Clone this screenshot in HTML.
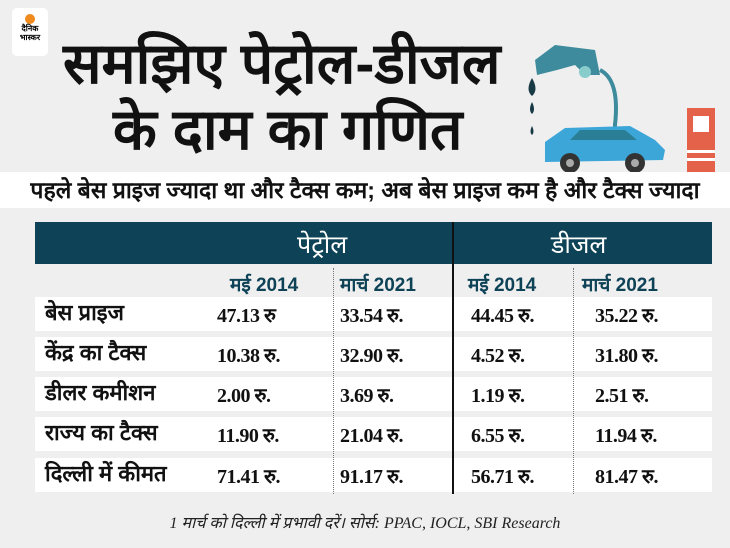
<!DOCTYPE html>
<html><head><meta charset="utf-8"><style>
body{margin:0;width:730px;height:548px;background:#efefef;overflow:hidden;position:relative;font-family:"Liberation Serif","Noto Serif CJK SC","Noto Sans CJK SC",serif}
.a{position:absolute}
.dev{font-family:"Liberation Sans","Noto Sans CJK SC","WenQuanYi Zen Hei",sans-serif}
.t{font-weight:900;font-size:57px;color:#111;white-space:nowrap;letter-spacing:0px}
.row{position:absolute;left:35px;width:677px;height:34px;background:#fff}
.lab{position:absolute;left:10px;top:0px;font-size:22px;font-weight:bold;color:#111;white-space:nowrap}
.v{position:absolute;top:4px;font-size:20px;font-weight:bold;color:#111;white-space:nowrap;letter-spacing:-0.5px}
.sh{position:absolute;top:271px;font-size:19px;color:#0e4256;font-weight:bold;white-space:nowrap}
</style></head><body>
<div class="a" style="left:12px;top:8px;width:36px;height:48px;background:#fff;border-radius:5px"></div>
<div class="a" style="left:25px;top:14px;width:10px;height:10px;border-radius:50%;background:#f08a1c"></div>
<div class="a dev" style="left:13px;top:24px;width:34px;font-size:8px;font-weight:bold;text-align:center;line-height:9px">दैनिक<br>भास्कर</div>
<div class="a dev t" style="left:63px;top:22px">समझिए पेट्रोल-डीजल</div>
<div class="a dev t" style="left:113px;top:88px">के दाम का गणित</div>
<svg class="a" style="left:515px;top:30px" width="215" height="175">
<path d="M20 30 L40 15 L80 20 L85 45 L70 45 L60 35 L42 40 L22 45Z" fill="#3d8b9c"/>
<circle cx="70" cy="42" r="6" fill="#8cc"/>
<path d="M85 40 Q105 50 100 95 L98 95" stroke="#3d8b9c" stroke-width="4" fill="none"/>
<path d="M17 48 Q10 60 17 66 Q24 60 17 48Z" fill="#173a45"/>
<path d="M17 72 Q13 80 17 84 Q21 80 17 72Z" fill="#173a45"/>
<path d="M17 96 Q14 102 17 105 Q20 102 17 96Z" fill="#173a45"/>
<rect x="172" y="78" width="28" height="64" fill="#e4614a"/>
<rect x="178" y="86" width="16" height="16" fill="#fff"/>
<rect x="172" y="120" width="28" height="3" fill="#fff"/><rect x="172" y="128" width="28" height="3" fill="#fff"/>
<path d="M30 112 L50 98 L115 96 L140 110 L150 120 L148 130 L30 132 Z" fill="#3da6d9"/>
<path d="M55 110 L65 100 L110 100 L122 110Z" fill="#2a7f96"/>
<circle cx="55" cy="133" r="10" fill="#333"/><circle cx="55" cy="133" r="4" fill="#aaa"/>
<circle cx="120" cy="133" r="10" fill="#333"/><circle cx="120" cy="133" r="4" fill="#aaa"/>
</svg>
<div class="a" style="left:0;top:172px;width:730px;height:36px;background:#fff"></div>
<div class="a dev" style="left:0;top:173px;width:730px;text-align:center;font-size:23px;font-weight:bold;color:#111;white-space:nowrap">पहले बेस प्राइज ज्यादा था और टैक्स कम; अब बेस प्राइज कम है और टैक्स ज्यादा</div>
<div class="a" style="left:35px;top:222px;width:677px;height:42px;background:#0e4256"></div>
<div class="a dev" style="left:297px;top:227px;font-size:25px;color:#fff">पेट्रोल</div>
<div class="a dev" style="left:551px;top:227px;font-size:25px;color:#fff">डीजल</div>
<div class="sh dev" style="left:230px">मई 2014</div>
<div class="sh dev" style="left:340px">मार्च 2021</div>
<div class="sh dev" style="left:468px">मई 2014</div>
<div class="sh dev" style="left:582px">मार्च 2021</div>
<div class="row" style="top:297px"><span class="lab dev">बेस प्राइज</span><span class="v" style="left:182px">47.13 रु</span><span class="v" style="left:305px">33.54 रु.</span><span class="v" style="left:436px">44.45 रु.</span><span class="v" style="left:560px">35.22 रु.</span></div>
<div class="row" style="top:337px"><span class="lab dev">केंद्र का टैक्स</span><span class="v" style="left:182px">10.38 रु.</span><span class="v" style="left:305px">32.90 रु.</span><span class="v" style="left:436px">4.52 रु.</span><span class="v" style="left:560px">31.80 रु.</span></div>
<div class="row" style="top:377px"><span class="lab dev">डीलर कमीशन</span><span class="v" style="left:182px">2.00 रु.</span><span class="v" style="left:305px">3.69 रु.</span><span class="v" style="left:436px">1.19 रु.</span><span class="v" style="left:560px">2.51 रु.</span></div>
<div class="row" style="top:417px"><span class="lab dev">राज्य का टैक्स</span><span class="v" style="left:182px">11.90 रु.</span><span class="v" style="left:305px">21.04 रु.</span><span class="v" style="left:436px">6.55 रु.</span><span class="v" style="left:560px">11.94 रु.</span></div>
<div class="row" style="top:458px"><span class="lab dev">दिल्ली में कीमत</span><span class="v" style="left:182px">71.41 रु.</span><span class="v" style="left:305px">91.17 रु.</span><span class="v" style="left:436px">56.71 रु.</span><span class="v" style="left:560px">81.47 रु.</span></div>
<div class="a" style="left:333px;top:268px;height:226px;border-left:1px dotted #777"></div>
<div class="a" style="left:573px;top:268px;height:226px;border-left:1px dotted #777"></div>
<div class="a" style="left:452px;top:222px;width:2px;height:272px;background:#111"></div>
<div class="a" style="left:0;top:511px;width:730px;text-align:center;font-size:16px;font-style:italic;color:#222">1 मार्च को दिल्ली में प्रभावी दरें। सोर्स: PPAC, IOCL, SBI Research</div>
</body></html>
